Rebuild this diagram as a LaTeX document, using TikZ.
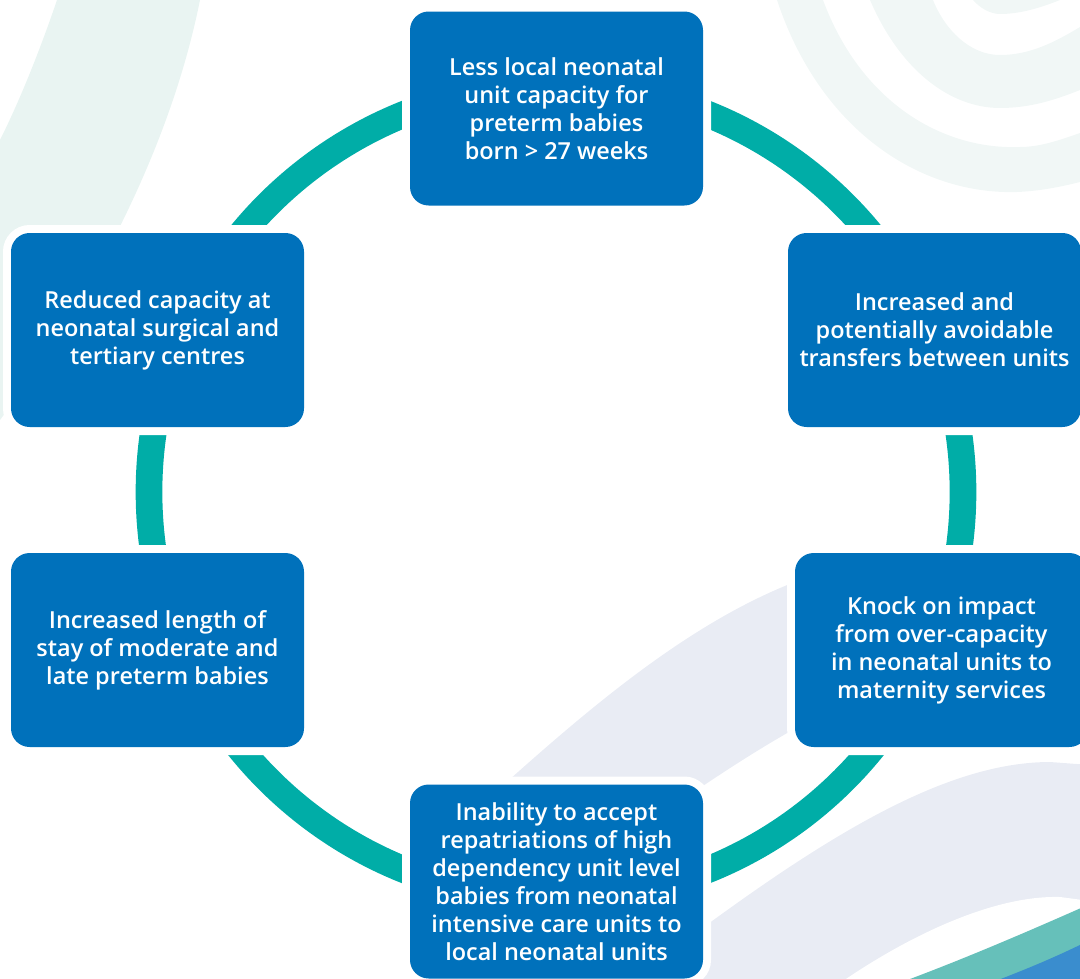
\documentclass[tikz,border=0pt]{standalone}
\usepackage{fontspec}
\setmainfont{Open Sans}[UprightFont={* Semibold}]

\tikzset{
  cyclebox/.style={fill={rgb, 255:red, 0; green, 113; blue, 187 }, rounded corners=14pt,
    preaction={draw=white, line width=12pt}, text=white, align=center, inner sep=0pt,
    minimum width=219.75pt, minimum height=145.5pt, font=\fontsize{17.6}{21}\selectfont},
  ring/.style={draw={rgb, 255:red, 0; green, 173; blue, 167 }, line width=20pt},
}

\begin{document}
\begin{tikzpicture}[x=0.75pt,y=0.75pt,yscale=-1,xscale=1]
\useasboundingbox (0,0) rectangle (1080,978);
\clip (0,0) rectangle (1080,978);
% background swirls
\fill [color={rgb, 255:red, 233; green, 244; blue, 242 }] (57,0) -- (200,0) .. controls (170,150) and (90,300) .. (0,420) -- (0,140) .. controls (20,100) and (40,50) .. (57,0) -- cycle;
\fill [color={rgb, 255:red, 241; green, 247; blue, 246 }] (777,0) .. controls (820,130) and (920,195) .. (1017,192) .. controls (1040,191) and (1060,187) .. (1080,182) -- (1080,133) .. controls (1060,140) and (1040,147) .. (1020,147) .. controls (940,150) and (860,100) .. (823,0) -- cycle;
\fill [color={rgb, 255:red, 241; green, 247; blue, 246 }] (870,0) .. controls (900,70) and (950,108) .. (1000,108) .. controls (1030,108) and (1055,100) .. (1080,90) -- (1080,27) .. controls (1055,42) and (1030,55) .. (1000,55) .. controls (970,55) and (945,30) .. (933,0) -- cycle;
\fill [color={rgb, 255:red, 241; green, 247; blue, 246 }] (973,0) .. controls (980,8) and (990,14) .. (1000,14) .. controls (1020,14) and (1040,8) .. (1060,0) -- cycle;
\fill [color={rgb, 255:red, 233; green, 236; blue, 244 }] (470,815) .. controls (570,725) and (680,625) .. (800,580) .. controls (900,552) and (1000,555) .. (1090,560) -- (1090,640) .. controls (930,650) and (820,700) .. (640,830) -- cycle;
\fill [color={rgb, 255:red, 233; green, 236; blue, 244 }] (620,990) .. controls (790,860) and (930,762) .. (1050,762) -- (1090,765) -- (1090,1000) -- (620,1000) -- cycle;
\fill [white] (830,990) .. controls (900,940) and (990,895) .. (1060,897) -- (1090,901) -- (1090,1000) -- (830,1000) -- cycle;
\fill [color={rgb, 255:red, 102; green, 192; blue, 186 }] (880,990) .. controls (950,965) and (1020,935) .. (1090,904) -- (1090,1000) -- (880,1000) -- cycle;
\fill [color={rgb, 255:red, 58; green, 141; blue, 206 }] (985,985) .. controls (1030,968) and (1060,955) .. (1090,940) -- (1090,1000) -- (985,1000) -- cycle;
% the cycle
\draw [ring] (556,492) circle [radius=407];
\node [cyclebox] (lesscap) at (556.5,108.5) {Less local neonatal\\unit capacity for\\preterm babies\\born > 27 weeks};
\node [cyclebox] (transfers) at (934.5,330) {Increased and\\potentially avoidable\\transfers between units};
\node [cyclebox] (knockon) at (941.5,650) {Knock on impact\\from over-capacity\\in neonatal units to\\maternity services};
\node [cyclebox] (repatriation) at (556.5,881.5) {Inability to accept\\repatriations of high\\dependency unit level\\babies from neonatal\\intensive care units to\\local neonatal units};
\node [cyclebox] (lengthstay) at (157.5,650) {Increased length of\\stay of moderate and\\late preterm babies};
\node [cyclebox] (reduced) at (157.5,330) {Reduced capacity at\\neonatal surgical and\\tertiary centres};
\end{tikzpicture}
\end{document}
